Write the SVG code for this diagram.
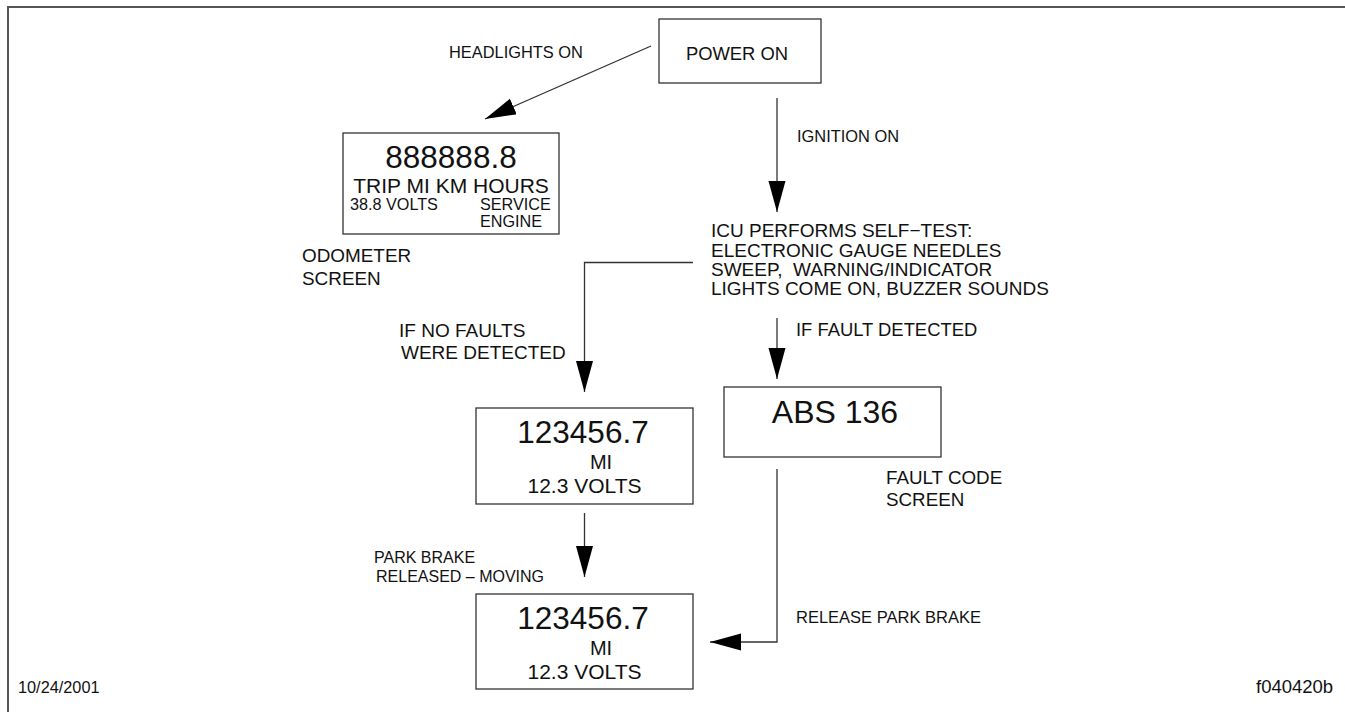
<svg xmlns="http://www.w3.org/2000/svg" width="1345" height="712" viewBox="0 0 1345 712">
<style>
text{font-family:"Liberation Sans",Arial,sans-serif;fill:#111;}
.box{fill:#fff;stroke:#333;stroke-width:1.3;}
.ln{fill:none;stroke:#333;stroke-width:1.3;}
.frame{fill:none;stroke:#555;stroke-width:2;}
.lbl{font-size:16.4px;}
.mid{font-size:19px;}
.big{font-size:31.5px;}
.c{text-anchor:middle;}
</style>
<defs>
<marker id="ah" markerUnits="userSpaceOnUse" markerWidth="32" markerHeight="18" refX="31" refY="8.5" orient="auto">
<path d="M0,0 L31,8.5 L0,17 Z" fill="#000"/>
</marker>
</defs>
<path class="frame" d="M8,720 V7 H1350"/>

<g id="power-on">
<rect class="box" x="659" y="19" width="162" height="64"/>
<text x="737" y="60" class="c" font-size="18.4">POWER ON</text>
</g>

<g id="odometer">
<rect class="box" x="343" y="133" width="216" height="101"/>
<text x="451" y="168" class="c big">888888.8</text>
<text x="451" y="193" class="c" font-size="21">TRIP MI KM HOURS</text>
<text x="350" y="210" font-size="16.2">38.8 VOLTS</text>
<text x="480" y="210" font-size="16.2">SERVICE</text>
<text x="480" y="227" font-size="16.2">ENGINE</text>
</g>
<g id="odometer-label">
<text x="302" y="262" font-size="18.9">ODOMETER</text>
<text x="302" y="285" font-size="18.9">SCREEN</text>
</g>

<g id="self-test">
<text x="711" y="237" class="mid">ICU PERFORMS SELF−TEST:</text>
<text x="711" y="257" class="mid">ELECTRONIC GAUGE NEEDLES</text>
<text x="711" y="276" class="mid" xml:space="preserve">SWEEP,  WARNING/INDICATOR</text>
<text x="711" y="295" class="mid">LIGHTS COME ON, BUZZER SOUNDS</text>
</g>

<g id="normal-screen">
<rect class="box" x="476" y="408" width="217" height="96"/>
<text x="583" y="443" class="c big">123456.7</text>
<text x="601" y="469" class="c" font-size="20">MI</text>
<text x="584.5" y="493" class="c" font-size="21">12.3 VOLTS</text>
</g>

<g id="moving-screen">
<rect class="box" x="476" y="594" width="217" height="95"/>
<text x="583" y="629" class="c big">123456.7</text>
<text x="601" y="655" class="c" font-size="20">MI</text>
<text x="584.5" y="679" class="c" font-size="21">12.3 VOLTS</text>
</g>

<g id="fault-screen">
<rect class="box" x="724" y="387" width="217" height="70"/>
<text x="835" y="423" class="c" font-size="32">ABS 136</text>
</g>
<g id="fault-label">
<text x="886" y="484" font-size="18.8">FAULT CODE</text>
<text x="886" y="506" font-size="18.8">SCREEN</text>
</g>

<g id="connectors">
<line class="ln" x1="651" y1="46" x2="485" y2="119" marker-end="url(#ah)"/>
<line class="ln" x1="777" y1="98" x2="777" y2="212" marker-end="url(#ah)"/>
<polyline class="ln" points="693,262.5 584.5,262.5 584.5,392" marker-end="url(#ah)"/>
<line class="ln" x1="777" y1="318" x2="777" y2="379" marker-end="url(#ah)"/>
<line class="ln" x1="584.5" y1="513" x2="584.5" y2="577" marker-end="url(#ah)"/>
<polyline class="ln" points="777,469 777,642 710,642" marker-end="url(#ah)"/>
</g>

<g id="connector-labels">
<text x="449" y="58" class="lbl">HEADLIGHTS ON</text>
<text x="797" y="142" class="lbl">IGNITION ON</text>
<text x="399" y="337" class="mid">IF NO FAULTS</text>
<text x="401" y="359" class="mid">WERE DETECTED</text>
<text x="796" y="336" font-size="18.4">IF FAULT DETECTED</text>
<text x="374" y="563" font-size="16">PARK BRAKE</text>
<text x="376" y="582" font-size="16">RELEASED – MOVING</text>
<text x="796" y="623" font-size="16.5">RELEASE PARK BRAKE</text>
</g>

<g id="footer">
<text x="18" y="693" font-size="16.3">10/24/2001</text>
<text x="1256" y="693" font-size="18.5">f040420b</text>
</g>
</svg>
